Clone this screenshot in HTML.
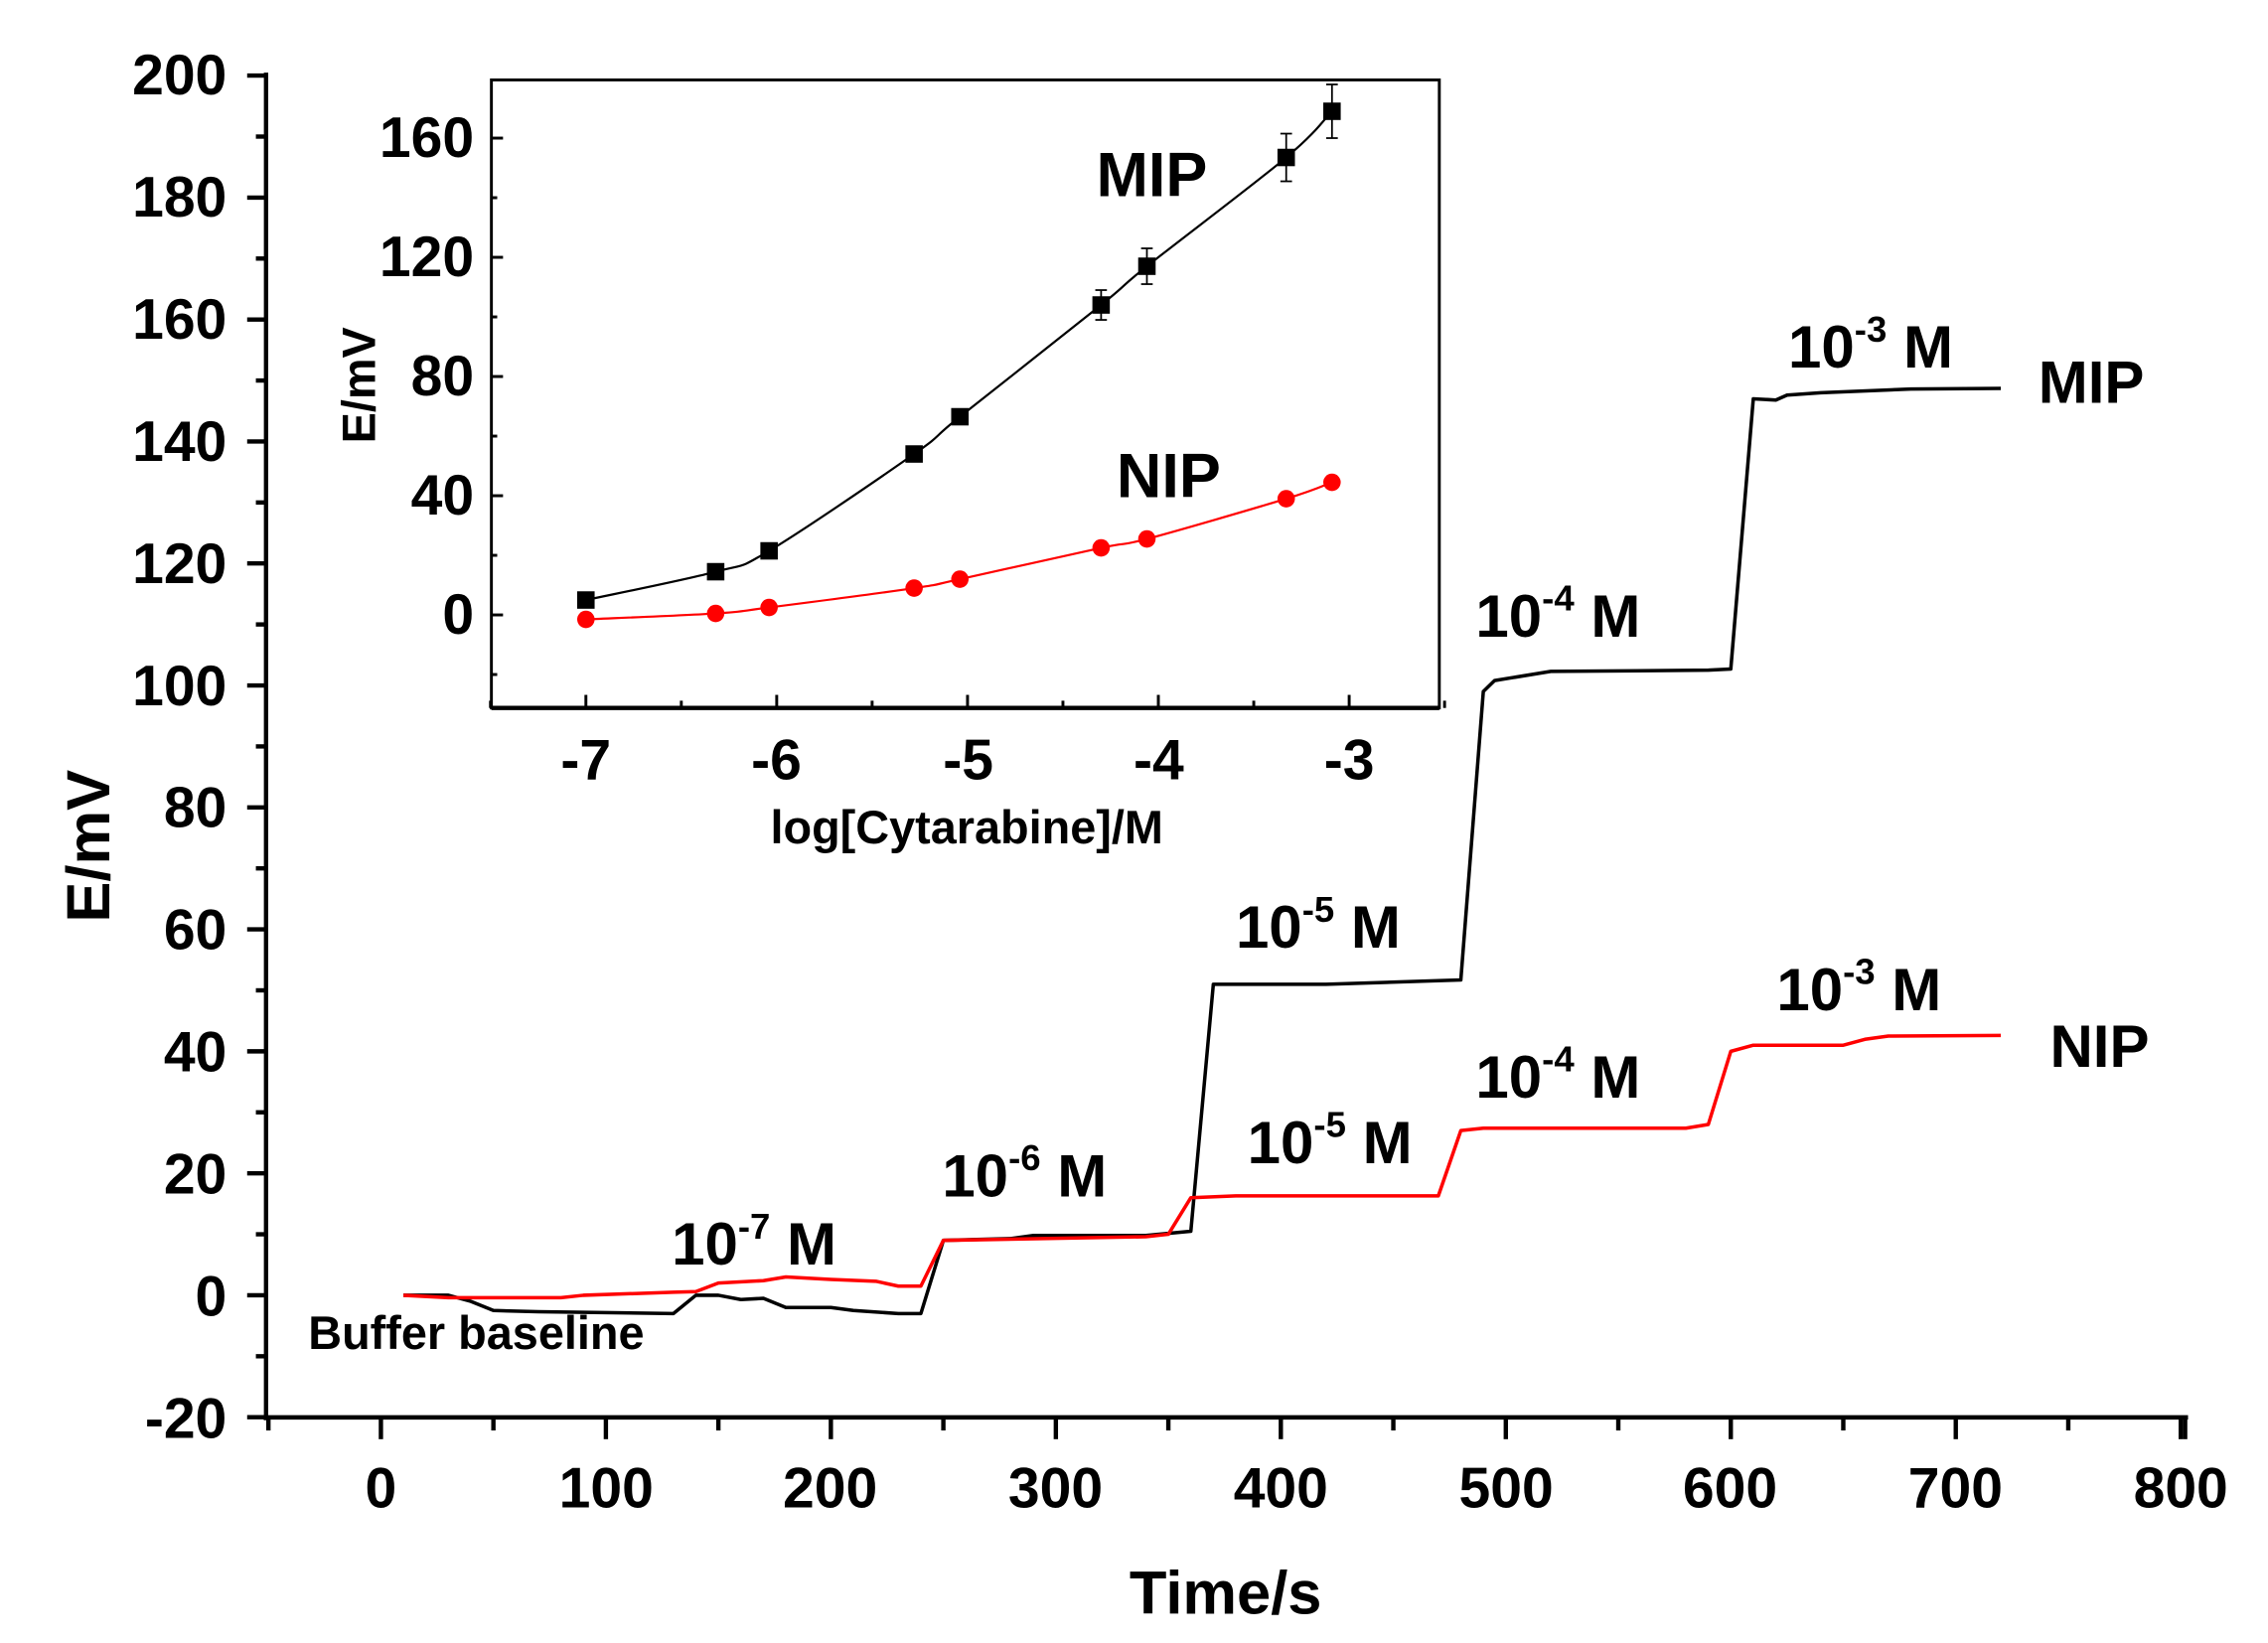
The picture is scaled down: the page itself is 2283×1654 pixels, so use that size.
<!DOCTYPE html>
<html><head><meta charset="utf-8"><style>
html,body{margin:0;padding:0;background:#fff;}
svg{display:block;}
text{font-family:"Liberation Sans",Arial,sans-serif;font-weight:bold;fill:#000;}
</style></head><body>
<svg id="s" width="2283" height="1654" viewBox="0 0 1560 1130.2" preserveAspectRatio="none" xmlns="http://www.w3.org/2000/svg">
<rect width="1560" height="1131" fill="#fff"/>
<g id="g"></g>
<g font-size="39" text-anchor="end">
<text x="156" y="65">200</text><text x="156" y="149">180</text><text x="156" y="233">160</text><text x="156" y="317">140</text><text x="156" y="401">120</text><text x="156" y="485">100</text><text x="156" y="569">80</text><text x="156" y="653">60</text><text x="156" y="737">40</text><text x="156" y="821">20</text><text x="156" y="905">0</text><text x="156" y="989">-20</text>
</g>
<g font-size="39" text-anchor="middle">
<text x="262" y="1037">0</text><text x="417" y="1037">100</text><text x="571" y="1037">200</text><text x="726" y="1037">300</text><text x="881" y="1037">400</text><text x="1036" y="1037">500</text><text x="1190" y="1037">600</text><text x="1345" y="1037">700</text><text x="1500" y="1037">800</text>
</g>
<text x="843" y="1110" font-size="42" text-anchor="middle">Time/s</text>
<text transform="translate(75,582) rotate(-90)" font-size="42" text-anchor="middle">E/mV</text>
<g font-size="41">
<text x="212" y="928" font-size="32">Buffer baseline</text>
<text x="462" y="870">10<tspan dy="-18" font-size="25">-7</tspan><tspan dy="18"> M</tspan></text>
<text x="648" y="823">10<tspan dy="-18" font-size="25">-6</tspan><tspan dy="18"> M</tspan></text>
<text x="850" y="652">10<tspan dy="-18" font-size="25">-5</tspan><tspan dy="18"> M</tspan></text>
<text x="858" y="800">10<tspan dy="-18" font-size="25">-5</tspan><tspan dy="18"> M</tspan></text>
<text x="1015" y="438">10<tspan dy="-18" font-size="25">-4</tspan><tspan dy="18"> M</tspan></text>
<text x="1015" y="755">10<tspan dy="-18" font-size="25">-4</tspan><tspan dy="18"> M</tspan></text>
<text x="1230" y="253">10<tspan dy="-18" font-size="25">-3</tspan><tspan dy="18"> M</tspan></text>
<text x="1222" y="695">10<tspan dy="-18" font-size="25">-3</tspan><tspan dy="18"> M</tspan></text>
<text x="1402" y="277">MIP</text>
<text x="1410" y="734">NIP</text>
</g>
<g font-size="39" text-anchor="end">
<text x="326" y="108">160</text><text x="326" y="190">120</text><text x="326" y="272">80</text><text x="326" y="354">40</text><text x="326" y="436">0</text>
</g>
<g font-size="39" text-anchor="middle">
<text x="403" y="536">-7</text><text x="534" y="536">-6</text><text x="666" y="536">-5</text><text x="797" y="536">-4</text><text x="928" y="536">-3</text>
</g>
<text x="665" y="580" font-size="32" text-anchor="middle">log[Cytarabine]/M</text>
<text transform="translate(258,265) rotate(-90)" font-size="32" text-anchor="middle">E/mV</text>
<text x="754" y="135" font-size="43">MIP</text>
<text x="768" y="342" font-size="43">NIP</text>
</svg>
<script>
var g=document.getElementById('g'),NS='http://www.w3.org/2000/svg';
function el(t,a){var e=document.createElementNS(NS,t);for(var k in a)e.setAttribute(k,a[k]);g.appendChild(e);return e;}
function line(x1,y1,x2,y2,w,c){el('line',{x1:x1,y1:y1,x2:x2,y2:y2,stroke:c||'#000','stroke-width':w});}
var X=function(t){return 262+t*1.5475},Y=function(v){return 52+(200-v)*4.195};
line(183,50,183,977,3);line(181,975,1505,975,3);
for(var v=-20;v<=200;v+=10){line(v%20==0?170:176,Y(v),183,Y(v),3);}
for(var t=-50;t<=800;t+=50){line(X(t),975,X(t),t%100==0?990:984,3);}
line(1503,975,1503,990,3);
function poly(pts,fx,fy,c,w){el('polyline',{points:pts.map(function(p){return fx(p[0])+','+fy(p[1])}).join(' '),fill:'none',stroke:c,'stroke-width':w,'stroke-linejoin':'round'});}
function smooth(pts,fx,fy,c,w){var P=pts.map(function(p){return [fx(p[0]),fy(p[1])]});var d='M'+P[0];
for(var i=0;i<P.length-1;i++){var p0=P[i-1]||P[i],p1=P[i],p2=P[i+1],p3=P[i+2]||p2;
d+=' C'+(p1[0]+(p2[0]-p0[0])/6)+','+(p1[1]+(p2[1]-p0[1])/6)+' '+(p2[0]-(p3[0]-p1[0])/6)+','+(p2[1]-(p3[1]-p1[1])/6)+' '+p2;}
el('path',{d:d,fill:'none',stroke:c,'stroke-width':w});}
var mip=[[10,0],[30,0],[40,-1],[50,-2.5],[70,-2.7],[130,-3],[140,0],[150,0],[160,-0.7],[170,-0.5],[180,-2],[200,-2],[210,-2.5],[230,-3],[240,-3],[250,9],[280,9.3],[290,9.8],[340,9.8],[360,10.5],[370,51],[420,51],[480,51.7],[490,99],[495,100.8],[520,102.3],[590,102.5],[600,102.7],[610,147],[620,146.8],[625,147.6],[640,148],[680,148.6],[720,148.7]];
var nip=[[10,0],[30,-0.4],[80,-0.4],[90,0],[130,0.5],[140,0.6],[150,2],[170,2.4],[180,3],[200,2.6],[220,2.3],[230,1.5],[240,1.5],[250,9],[340,9.6],[350,10],[360,16],[380,16.3],[470,16.3],[480,27],[490,27.4],[580,27.4],[590,28],[600,40],[610,41],[650,41],[660,42],[670,42.5],[720,42.6]];
poly(mip,X,Y,'#000',2.4);poly(nip,X,Y,'#f00',2.4);
var IX=function(x){return 403+(x+7)*131.25},IY=function(v){return 423-v*2.05};
el('rect',{x:338,y:55,width:652,height:432,fill:'none',stroke:'#000','stroke-width':2});
line(338,487,990,487,3);
for(var v=-20;v<=160;v+=20){line(338,IY(v),v%40==0?346:342,IY(v),2);}
for(var x=-7.5;x<=-2.5;x+=0.5){line(IX(x),487,IX(x),Math.abs(x-Math.round(x))<0.01?478:482,2);}
var im=[[-7,5],[-6.32,14.5],[-6.04,21.5],[-5.28,54],[-5.04,66.5],[-4.3,104],[-4.06,117],[-3.33,153.5],[-3.09,169]];
var inn=[[-7,-1.5],[-6.32,0.5],[-6.04,2.5],[-5.28,9],[-5.04,12],[-4.3,22.5],[-4.06,25.5],[-3.33,39],[-3.09,44.5]];
var ie={'-4.3':5,'-4.06':6,'-3.33':8,'-3.09':9};
smooth(im,IX,IY,'#000',1.5);smooth(inn,IX,IY,'#f00',1.5);
im.forEach(function(p){var x=IX(p[0]),y=IY(p[1]);var e=ie[String(p[0])];if(e){line(x,IY(p[1]-e),x,IY(p[1]+e),1.2);line(x-4,IY(p[1]-e),x+4,IY(p[1]-e),1.2);line(x-4,IY(p[1]+e),x+4,IY(p[1]+e),1.2);}
el('rect',{x:x-6,y:y-6,width:12,height:12,fill:'#000'});});
inn.forEach(function(p){el('circle',{cx:IX(p[0]),cy:IY(p[1]),r:6,fill:'#f00'});});
</script>
</body></html>
